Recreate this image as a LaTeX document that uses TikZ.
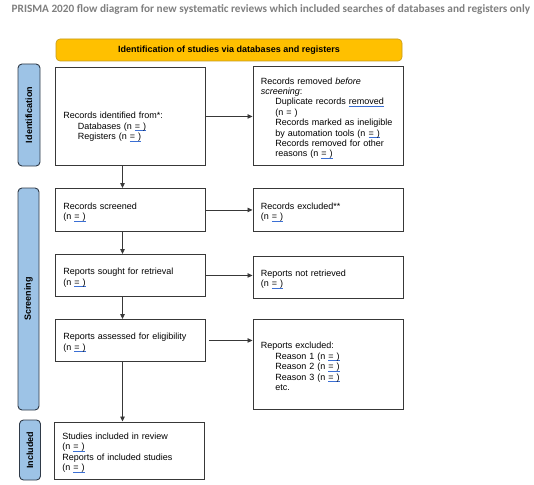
\documentclass[tikz,border=0pt]{standalone}
\usepackage{fontspec}
\setmainfont{Liberation Sans}
\newfontfamily\ttlfont{Carlito}
\usetikzlibrary{arrows.meta}
\definecolor{ttlgray}{HTML}{7F7F7F}
\definecolor{yelfill}{HTML}{FFC000}
\definecolor{yeldraw}{HTML}{C49A1A}
\definecolor{barfill}{HTML}{9DC3E6}
\definecolor{bardraw}{HTML}{2F3A48}
\definecolor{boxdraw}{HTML}{383838}
\definecolor{ulblue}{HTML}{3B6FD4}
\newcommand\fs{\fontsize{9}{10.4}\selectfont}
\newcommand\ulb[1]{\setbox0\hbox{#1}\rlap{\textcolor{ulblue}{\rule[-1.6pt]{\wd0}{0.6pt}}}#1}
\newcommand\nul{\ulb{=\ )}}
\newcommand\ind{\hspace*{14.5pt}}
\tikzset{
  flowbox/.style={draw=boxdraw, line width=0.9pt, fill=white, anchor=north west,
    align=left, inner xsep=8pt, inner ysep=0pt, font=\fs,
    execute at begin node=\rule{0pt}{10.6pt}},
  sidebar/.style={draw=bardraw, fill=barfill, rounded corners=4pt, line width=0.9pt,
    rotate=90, inner sep=0pt, font=\bfseries\fontsize{9}{10}\selectfont},
  headbar/.style={draw=yeldraw, fill=yelfill, rounded corners=4pt, line width=0.6pt,
    inner sep=0pt, font=\bfseries\fontsize{9}{10}\selectfont},
  arr/.style={draw=boxdraw, line width=0.8pt, -{Triangle[length=5pt,width=4.5pt]}}
}
\begin{document}
\begin{tikzpicture}[x=1pt,y=-1pt]
\useasboundingbox[fill=white] (0,0) rectangle (534,484);

\node[anchor=base west, inner sep=0pt, text=ttlgray, font=\ttlfont\bfseries\fontsize{11.25}{12}\selectfont] (title) at (11.5,12.5)
  {PRISMA 2020 flow diagram for new systematic reviews which included searches of databases and registers only};

\node[headbar, minimum width=346pt, minimum height=22pt] (head) at (229,50)
  {Identification of studies via databases and registers};

\node[sidebar, minimum width=102pt, minimum height=22pt] (sbid) at (29,115) {Identification};
\node[sidebar, minimum width=222pt, minimum height=21pt] (sbscr) at (28.5,299) {Screening};
\node[sidebar, minimum width=60pt, minimum height=21pt] (sbinc) at (30,450) {Included};

\node[flowbox, text width=134pt, minimum height=98pt] (id) at (55,67)
  {\rule{0pt}{27.6pt}Records identified from*:\\ \ind Databases (n \nul\\ \ind Registers (n \nul};
\node[flowbox, text width=134pt, minimum height=98.5pt] (rem) at (252.5,66.5)
  {Records removed \textit{before}\\ \textit{screening}:\\
   \ind Duplicate records \ulb{removed}\\ \ind (n = )\\
   \ind Records marked as ineligible\\ \ind by automation tools (n \nul\\
   \ind Records removed for other\\ \ind reasons (n \nul};

\node[flowbox, text width=134pt, minimum height=43pt] (scr) at (55,188)
  {Records screened\\ (n \nul};
\node[flowbox, text width=134.5pt, minimum height=43pt] (exc) at (252.5,188)
  {Records excluded**\\ (n \nul};

\node[flowbox, text width=134pt, minimum height=42pt] (sought) at (55,254)
  {Reports sought for retrieval\\ (n \nul};
\node[flowbox, text width=134.5pt, minimum height=42pt] (nr) at (252.5,255.5)
  {Reports not retrieved\\ (n \nul};

\node[flowbox, text width=134pt, minimum height=42pt] (ass) at (55,319)
  {Reports assessed for eligibility\\ (n \nul};
\node[flowbox, text width=134.5pt, minimum height=90pt] (rex) at (252.5,319)
  {Reports excluded:\\ \ind Reason 1 (n \nul\\ \ind Reason 2 (n \nul\\
   \ind Reason 3 (n \nul\\ \ind etc.};

\node[flowbox, text width=134pt, minimum height=57.5pt] (stu) at (54,421.5)
  {Studies included in review\\ (n \nul\\ Reports of included studies\\ (n \nul};

\coordinate (vx) at (122.5,0);
\draw[arr] (id.south -| vx) -- (scr.north -| vx);
\draw[arr] (scr.south -| vx) -- (sought.north -| vx);
\draw[arr] (sought.south -| vx) -- (ass.north -| vx);
\draw[arr] (ass.south -| vx) -- (stu.north -| vx);

\draw[arr] (id.east) -- (id.east -| rem.west);
\draw[arr] (scr.east) -- (scr.east -| exc.west);
\draw[arr] (sought.east) -- (sought.east -| nr.west);
\draw[arr] ([xshift=3pt]ass.east) -- (ass.east -| rex.west);
\end{tikzpicture}
\end{document}
